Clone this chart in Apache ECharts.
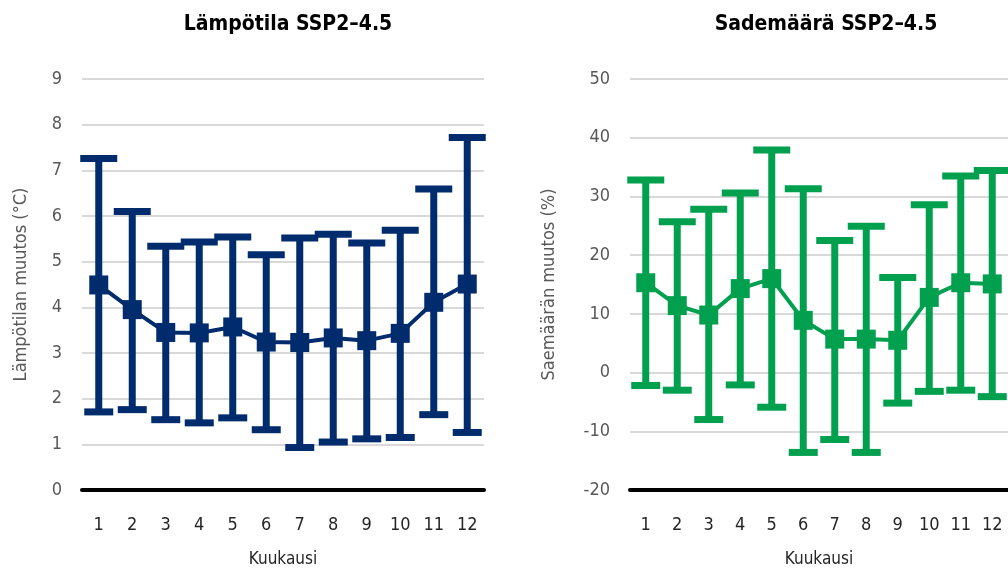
<!DOCTYPE html>
<html><head><meta charset="utf-8">
<script src="https://cdn.jsdelivr.net/npm/echarts@6/dist/echarts.min.js"></script>
<style>html,body{margin:0;padding:0;background:#fff}#c{width:1008px;height:573px}</style>
</head><body><div id="c"></div>
<script>
const months = ['1','2','3','4','5','6','7','8','9','10','11','12'];
const tempMean = [4.49,3.95,3.45,3.44,3.57,3.24,3.23,3.33,3.27,3.43,4.11,4.51];
const tempHigh = [7.26,6.10,5.34,5.43,5.54,5.15,5.52,5.60,5.41,5.69,6.59,7.72];
const tempLow  = [1.71,1.76,1.54,1.47,1.58,1.32,0.93,1.05,1.12,1.15,1.65,1.26];
const precMean = [15.3,11.4,9.8,14.3,16.0,8.9,5.7,5.7,5.5,12.8,15.3,15.1];
const precHigh = [32.8,25.7,27.8,30.6,37.9,31.3,22.5,24.9,16.2,28.6,33.5,34.4];
const precLow  = [-2.2,-3.0,-8.0,-2.1,-5.9,-13.6,-11.4,-13.6,-5.2,-3.2,-3.0,-4.1];

const FONT = '"Liberation Sans Narrow","DejaVu Sans Condensed","Roboto",sans-serif';
const NAVY = '#002B6D', GREEN = '#00A04F';

function errData(lo, hi){ return lo.map((v,i)=>[i, v, hi[i]]); }
function makeRender(color){
  return function(params, api){
    const x = api.value(0);
    const lo = api.coord([x, api.value(1)]);
    const hi = api.coord([x, api.value(2)]);
    const t = 7;
    return {type:'group', children:[
      {type:'line', shape:{x1:lo[0], y1:lo[1], x2:hi[0], y2:hi[1]}, style:{stroke:color, lineWidth:t}},
      {type:'rect', shape:{x:hi[0]-18.5, y:hi[1]-t/2, width:37, height:t}, style:{fill:color}},
      {type:'rect', shape:{x:lo[0]-14.5, y:lo[1]-t/2, width:29, height:t}, style:{fill:color}}
    ]};
  };
}

const chart = echarts.init(document.getElementById('c'));
const yLab = {color:'#595959', fontFamily:FONT, fontSize:18, margin:20};
const xLab = {color:'#262626', fontFamily:FONT, fontSize:18, margin:26};
function xAx(i){ return {type:'category', gridIndex:i, data:months, boundaryGap:true,
  axisLine:{onZero:false, lineStyle:{color:'#000', width:4}}, axisTick:{show:false}, axisLabel:xLab,
  name:'Kuukausi', nameLocation:'middle', nameGap:61, nameTextStyle:{color:'#262626', fontFamily:FONT, fontSize:17}}; }
function yAx(i, min, max, interval, name, gap){ return {type:'value', gridIndex:i, min, max, interval,
  axisLine:{show:false}, axisTick:{show:false}, axisLabel:yLab,
  splitLine:{lineStyle:{color:'#d9d9d9', width:2}},
  name, nameLocation:'middle', nameGap:gap, nameTextStyle:{color:'#595959', fontFamily:FONT, fontSize:18}}; }

chart.setOption({
  animation:false,
  title:[
    {text:'Lämpötila SSP2–4.5', left:283, top:9, textAlign:'center', textStyle:{fontFamily:FONT, fontWeight:'bold', fontSize:21, color:'#000'}},
    {text:'Sademäärä SSP2–4.5', left:821, top:9, textAlign:'center', textStyle:{fontFamily:FONT, fontWeight:'bold', fontSize:21, color:'#000'}}
  ],
  grid:[{left:82, width:402, top:79, height:413},{left:630, width:382, top:79, height:413}],
  xAxis:[xAx(0), xAx(1)],
  yAxis:[yAx(0,0,9,1,'Lämpötilan muutos (°C)',52), yAx(1,-20,50,10,'Saemäärän muutos (%)',72)],
  series:[
    {type:'custom', xAxisIndex:0, yAxisIndex:0, data:errData(tempLow,tempHigh), renderItem:makeRender(NAVY), encode:{x:0,y:[1,2]}, z:2},
    {type:'line', xAxisIndex:0, yAxisIndex:0, data:tempMean, symbol:'rect', symbolSize:19, lineStyle:{color:NAVY, width:4}, itemStyle:{color:NAVY}, z:3},
    {type:'custom', xAxisIndex:1, yAxisIndex:1, data:errData(precLow,precHigh), renderItem:makeRender(GREEN), encode:{x:0,y:[1,2]}, z:2},
    {type:'line', xAxisIndex:1, yAxisIndex:1, data:precMean, symbol:'rect', symbolSize:19, lineStyle:{color:GREEN, width:4}, itemStyle:{color:GREEN}, z:3}
  ]
});
</script></body></html>
